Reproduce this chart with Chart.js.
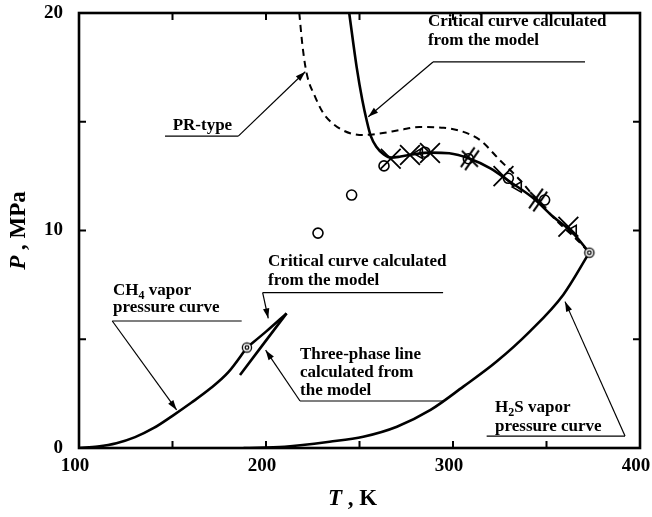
<!DOCTYPE html>
<html>
<head>
<meta charset="utf-8">
<script src="https://cdn.jsdelivr.net/npm/chart.js@4.4.1/dist/chart.umd.min.js"></script>
<style>
  html, body { margin: 0; background: #fff; }
  #wrap { width: 652px; height: 517px; }
</style>
</head>
<body>
<div id="wrap"><canvas id="phase"></canvas></div>
<script>
// T in K, P in MPa
const ch4T = [100, 110, 120, 130, 140, 150, 160, 170, 180, 189.8];
const ch4P = [0, 0.07, 0.22, 0.5, 0.92, 1.48, 2.08, 2.72, 3.5, 4.62];

const h2sT = [188, 210, 234, 252, 270, 288, 305.5, 323, 341, 359, 372.9];
const h2sP = [0, 0.06, 0.29, 0.52, 0.98, 1.75, 2.82, 3.95, 5.35, 7.05, 8.98];

// critical curve from the model
const critT = [244.5, 248.5, 251.5, 254, 256, 259, 263, 267, 272, 280, 288, 298, 309, 320, 330.5, 343, 353.6, 364.3, 372.9];
const critP = [20, 17.5, 16.0, 15.0, 14.35, 13.85, 13.5, 13.35, 13.4, 13.52, 13.58, 13.55, 13.3, 12.86, 12.24, 11.48, 10.63, 9.87, 8.98];

// PR-type critical curve
const prT = [217.8, 219.5, 221.8, 226, 230.6, 236, 241.3, 246, 252, 260, 271.7, 282, 295, 305, 314.4, 325, 335.8, 346.5, 357.2, 366, 372.9];
const prP = [20, 18.5, 17.2, 16.2, 15.4, 14.9, 14.6, 14.45, 14.39, 14.45, 14.62, 14.76, 14.72, 14.55, 14.16, 13.24, 12.32, 11.25, 10.3, 9.6, 8.98];

// short critical branch and three-phase line near the CH4 end
const ch4CritT = [189.8, 200, 211];
const ch4CritP = [4.62, 5.35, 6.19];
const threeT = [186.1, 211];
const threeP = [3.36, 6.19];

// measured points
const circT = [227.8, 245.8, 263.1, 285, 308.2, 329.6, 349];
const circP = [9.88, 11.63, 12.97, 13.6, 13.3, 12.4, 11.4];
const crossT = [266.7, 277, 287.7, 327, 361.7];
const crossP = [13.3, 13.47, 13.56, 12.5, 10.17];
const triT = [282, 334.9, 364.3];
const triP = [13.55, 12.0, 10.0];
const slashT = [309, 345.5];
const slashP = [13.3, 11.4];

// pure-component critical points (CH4, H2S)
const cpT = [189.8, 372.9];
const cpP = [4.62, 8.98];

const xTicks = [100, 200, 300, 400];
const yTicks = [0, 10, 20];

const pts = (t, p) => t.map((v, i) => ({ x: v, y: p[i] }));

const FONT = '"Liberation Serif", "Times New Roman", serif';

function glyph(size, draw) {
  const c = document.createElement('canvas');
  c.width = c.height = size;
  const g = c.getContext('2d');
  g.strokeStyle = '#000';
  g.lineCap = 'butt';
  draw(g, size / 2);
  return c;
}

// two parallel strokes crossed by a third
const slashMark = glyph(30, (g, m) => {
  g.lineWidth = 2;
  const a = 55 * Math.PI / 180, dx = Math.cos(a), dy = -Math.sin(a);
  [-2.6, 2.6].forEach(o => {
    const ox = -dy * o, oy = dx * o;
    g.beginPath();
    g.moveTo(m - dx * 12 + ox, m - dy * 12 + oy);
    g.lineTo(m + dx * 12 + ox, m + dy * 12 + oy);
    g.stroke();
  });
  g.beginPath();
  g.moveTo(m - 8, m - 8);
  g.lineTo(m + 8, m + 8);
  g.stroke();
});

// circle with inner ring
const cpMark = glyph(14, (g, m) => {
  g.lineWidth = 1.3;
  g.fillStyle = '#fff';
  g.beginPath(); g.arc(m, m, 4.6, 0, Math.PI * 2); g.fill(); g.stroke();
  g.beginPath(); g.arc(m, m, 1.8, 0, Math.PI * 2); g.stroke();
});

const curve = (t, p, extra) => Object.assign({
  data: pts(t, p),
  showLine: true,
  borderColor: '#000',
  borderWidth: 2.6,
  pointRadius: 0,
  cubicInterpolationMode: 'monotone',
  fill: false
}, extra || {});

const marks = (t, p, extra) => Object.assign({
  data: pts(t, p),
  showLine: false,
  borderColor: '#000',
  backgroundColor: 'rgba(0,0,0,0)',
  borderWidth: 1.6
}, extra);

// annotation texts with leader lines, placed in (T, P) units
const notes = [
  { x: 286.6, y: [19.59, 18.71], lines: [[['Critical curve calculated']], [['from the model']]],
    under: [289.3, 370.6, 17.75], from: [289.3, 17.75], to: [254.7, 15.23] },
  { x: 150.1, y: [14.8], lines: [[['PR-type']]],
    under: [146.0, 185.2, 14.34], from: [185.2, 14.34], to: [221.0, 17.3] },
  { x: 201.1, y: [8.55, 7.68], lines: [[['Critical curve calculated']], [['from the model']]],
    under: [198.2, 294.7, 7.14], from: [198.2, 7.14], to: [201.2, 5.96] },
  { x: 118.2, y: [7.22, 6.46], lines: [[['CH'], ['4', 1], [' vapor']], [['pressure curve']]],
    under: [117.8, 187.0, 5.84], from: [117.8, 5.84], to: [152.2, 1.75] },
  { x: 218.2, y: [4.28, 3.45, 2.62], lines: [[['Three-phase line']], [['calculated from']], [['the model']]],
    under: [218.2, 294.7, 2.16], from: [218.2, 2.16], to: [199.8, 4.5] },
  { x: 322.5, y: [1.86, 0.99], lines: [[['H'], ['2', 1], ['S vapor']], [['pressure curve']]],
    under: [318.0, 392.0, 0.55], from: [392.0, 0.55], to: [359.9, 6.73] }
];

function arrow(ctx, x1, y1, x2, y2) {
  ctx.beginPath();
  ctx.moveTo(x1, y1);
  ctx.lineTo(x2, y2);
  ctx.stroke();
  const a = Math.atan2(y2 - y1, x2 - x1), L = 10, W = 3.2;
  ctx.beginPath();
  ctx.moveTo(x2, y2);
  ctx.lineTo(x2 - L * Math.cos(a) + W * Math.sin(a), y2 - L * Math.sin(a) - W * Math.cos(a));
  ctx.lineTo(x2 - L * Math.cos(a) - W * Math.sin(a), y2 - L * Math.sin(a) + W * Math.cos(a));
  ctx.closePath();
  ctx.fill();
}

const decorations = {
  id: 'decorations',
  afterDraw(chart) {
    const { ctx, chartArea: a, scales: { x, y } } = chart;
    ctx.save();
    ctx.strokeStyle = '#000';
    ctx.fillStyle = '#000';

    // frame
    ctx.lineWidth = 2.6;
    ctx.strokeRect(a.left, a.top, a.right - a.left, a.bottom - a.top);

    // inward ticks
    ctx.lineWidth = 2;
    ctx.beginPath();
    for (let t = 150; t < 400; t += 50) {
      const px = x.getPixelForValue(t);
      ctx.moveTo(px, a.bottom); ctx.lineTo(px, a.bottom - 7);
      ctx.moveTo(px, a.top); ctx.lineTo(px, a.top + 7);
    }
    for (let p = 5; p < 20; p += 5) {
      const py = y.getPixelForValue(p);
      ctx.moveTo(a.left, py); ctx.lineTo(a.left + 7, py);
      ctx.moveTo(a.right, py); ctx.lineTo(a.right - 7, py);
    }
    ctx.stroke();

    // tick labels
    ctx.font = 'bold 19px ' + FONT;
    ctx.textBaseline = 'middle';
    ctx.textAlign = 'center';
    xTicks.forEach(v => ctx.fillText(String(v), x.getPixelForValue(v) - 4, a.bottom + 18));
    ctx.textAlign = 'right';
    yTicks.forEach(v => ctx.fillText(String(v), a.left - 16, y.getPixelForValue(v)));

    // annotations
    ctx.lineWidth = 1.2;
    ctx.textAlign = 'left';
    notes.forEach(n => {
      n.lines.forEach((segs, i) => {
        let px = x.getPixelForValue(n.x);
        const py = y.getPixelForValue(n.y[i]);
        segs.forEach(([s, sub]) => {
          ctx.font = sub ? 'bold 12px ' + FONT : 'bold 17px ' + FONT;
          ctx.fillText(s, px, sub ? py + 5 : py);
          px += ctx.measureText(s).width;
        });
      });
      const uy = y.getPixelForValue(n.under[2]);
      ctx.beginPath();
      ctx.moveTo(x.getPixelForValue(n.under[0]), uy);
      ctx.lineTo(x.getPixelForValue(n.under[1]), uy);
      ctx.stroke();
      arrow(ctx,
        x.getPixelForValue(n.from[0]), y.getPixelForValue(n.from[1]),
        x.getPixelForValue(n.to[0]), y.getPixelForValue(n.to[1]));
    });

    // axis titles
    ctx.textBaseline = 'alphabetic';
    const titled = (parts) => parts.reduce((w, [s, it]) => {
      ctx.font = (it ? 'italic bold 23px ' : 'bold 23px ') + FONT;
      return w + ctx.measureText(s).width;
    }, 0);
    const drawParts = (parts, sx, sy) => parts.forEach(([s, it]) => {
      ctx.font = (it ? 'italic bold 23px ' : 'bold 23px ') + FONT;
      ctx.fillText(s, sx, sy);
      sx += ctx.measureText(s).width;
    });
    const xt = [['T', 1], [' , K', 0]];
    drawParts(xt, (a.left + a.right) / 2 - 7 - titled(xt) / 2, 505);
    const yt = [['P', 1], [' , MPa', 0]];
    ctx.save();
    ctx.translate(25, (a.top + a.bottom) / 2);
    ctx.rotate(-Math.PI / 2);
    drawParts(yt, -titled(yt) / 2, 0);
    ctx.restore();

    ctx.restore();
  }
};

new Chart(document.getElementById('phase'), {
  type: 'scatter',
  data: {
    datasets: [
      marks(cpT, cpP, { pointStyle: cpMark }),
      marks(circT, circP, { pointStyle: 'circle', pointRadius: 5 }),
      marks(crossT, crossP, { pointStyle: 'crossRot', pointRadius: 14, borderWidth: 1.8 }),
      marks(triT, triP, { pointStyle: 'triangle', pointRadius: 6, rotation: 30 }),
      marks(slashT, slashP, { pointStyle: slashMark }),
      curve(critT, critP),
      curve(prT, prP, { borderDash: [7, 5], borderWidth: 2 }),
      curve(ch4T, ch4P),
      curve(h2sT, h2sP),
      curve(ch4CritT, ch4CritP),
      curve(threeT, threeP)
    ]
  },
  options: {
    responsive: true,
    maintainAspectRatio: false,
    animation: false,
    layout: { autoPadding: false, padding: { top: 13, right: 12, left: 0, bottom: 0 } },
    plugins: { legend: { display: false }, tooltip: { enabled: false } },
    scales: {
      x: {
        type: 'linear', min: 100, max: 400,
        afterFit: s => { s.height = 69; },
        ticks: { display: false },
        grid: { display: false, drawTicks: false },
        border: { display: false }
      },
      y: {
        type: 'linear', min: 0, max: 20,
        afterFit: s => { s.width = 79; },
        ticks: { display: false },
        grid: { display: false, drawTicks: false },
        border: { display: false }
      }
    }
  },
  plugins: [decorations]
});
</script>
</body>
</html>
